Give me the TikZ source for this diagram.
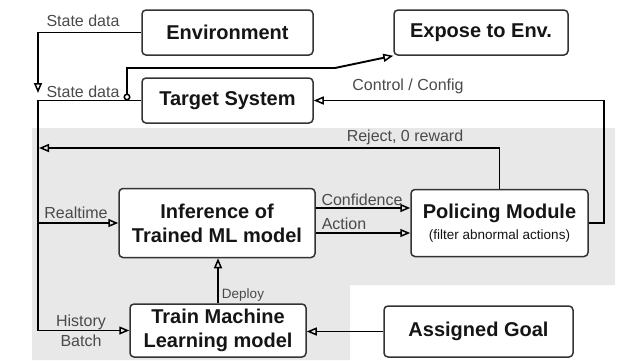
\documentclass[tikz,border=0pt]{standalone}
\usepackage{fontspec}
\setmainfont{Liberation Sans}
\usepackage{tikz}
\usetikzlibrary{arrows.meta}

\definecolor{zone}{HTML}{E8E8E8}
\definecolor{labgray}{HTML}{4A4A4A}
\definecolor{boxtext}{HTML}{151515}

\tikzset{
  box/.style={draw=black!80,line width=1.5pt,rounded corners=4pt,fill=white,
    inner sep=0pt,align=center,text=boxtext,
    font=\fontsize{20}{24}\selectfont\bfseries},
  lab/.style={inner sep=0pt,text=labgray,font=\fontsize{16}{18}\selectfont},
  conn/.style={line width=1.9pt,black},
  tip/.style={-{Triangle[open,length=10pt,width=8pt,line width=1.5pt]}}
}

\begin{document}
\begin{tikzpicture}[x=1pt,y=-1pt]
  \useasboundingbox (0,0) rectangle (622,360);
  \fill[zone] (32,128) -- (615,128) -- (615,285) -- (350,285) -- (350,360) -- (32,360) -- cycle;

  \node(env)[box,minimum width=171pt,minimum height=45pt] at (227.5,32.5) {Environment};
  \node(expose)[box,minimum width=174pt,minimum height=45pt] at (481,32.5) {Expose to Env.};
  \node(target)[box,minimum width=171pt,minimum height=45pt] at (227.5,100.5) {Target System};
  \node(infer)[box,minimum width=196pt,minimum height=69pt] at (217,223) {Inference of\\Trained ML model};
  \node(police)[box,minimum width=177pt,minimum height=67pt] at (499.5,223)
    {Policing Module\\[-3pt]{\fontsize{13.5}{15}\selectfont\mdseries (filter abnormal actions)}};
  \node(train)[box,minimum width=176pt,minimum height=53pt] at (218,330.5) {Train Machine\\Learning model};
  \node(goal)[box,minimum width=189pt,minimum height=51pt] at (478.5,331.5) {Assigned Goal};

  \coordinate(envin) at (38,93);
  \coordinate(bus) at (38,330.5);
  \coordinate(tap) at (127,100.5);
  \coordinate(tapup) at (127,68);
  \coordinate(bend) at (335,68);
  \coordinate(cc) at (604,223);
  \coordinate(rej) at (39,148);

  \draw[conn,tip] (env.west) -| (envin);
  \draw[conn,tip] (target.west) -| (bus) -- (train.west);
  \draw[conn,{Circle[open,length=7pt,line width=1.5pt]}-{Triangle[open,length=10pt,width=8pt,line width=1.5pt]}]
    (tap) -- (tapup) -- (bend) -- (expose.south west);
  \draw[conn,tip] (police.east) -- (cc) |- (target.east);
  \draw[conn,tip] (police.north) |- (rej);
  \draw[conn,tip] (bus |- infer.west) -- (infer.west);
  \draw[conn,tip] ([yshift=15pt]infer.east) -- ([yshift=15pt]police.west);
  \draw[conn,tip] ([yshift=-10pt]infer.east) -- ([yshift=-10pt]police.west);
  \draw[conn,tip] (train.north) -- (train.north |- infer.south);
  \draw[conn,tip] (goal.west) -- (goal.west -| train.east);

  \node(sd1)[lab] at (83,21) {State data};
  \node(sd2)[lab] at (83,92) {State data};
  \node(ctl)[lab] at (408,86) {Control / Config};
  \node(rjt)[lab] at (405,137) {Reject, 0 reward};
  \node(rtm)[lab] at (76,213) {Realtime};
  \node(cnf)[lab] at (362,200) {Confidence};
  \node(act)[lab] at (344,224) {Action};
  \node(dpl)[lab,font=\fontsize{13.5}{15}\selectfont] at (243,295) {Deploy};
  \node(hst)[lab] at (81,322) {History};
  \node(bch)[lab] at (81,341) {Batch};
\end{tikzpicture}
\end{document}
